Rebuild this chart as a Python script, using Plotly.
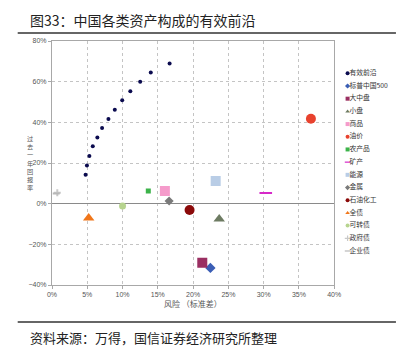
import plotly.graph_objects as go

# Efficient frontier (risk = std dev %, return = trailing 1y return %)
frontier_risk = [4.76, 4.95, 5.3, 5.78, 6.43, 7.1, 8.0, 8.9, 9.95, 11.1, 12.5, 14.0, 16.67]
frontier_return = [14.2, 18.8, 23.4, 28.2, 32.6, 37.2, 41.6, 46.2, 50.9, 55.3, 60.0, 64.5, 68.9]

# Individual asset classes
asset_names = ["标普中国500", "大中盘", "小盘", "商品", "油价", "农产品", "矿产",
               "能源", "金属", "石油化工", "全债", "可转债", "政府债", "企业债"]
asset_risk = [22.45, 21.3, 23.7, 16.0, 36.7, 13.65, 30.3, 23.2, 16.6, 19.5, 5.2, 10.0, 0.75, 0.6]
asset_return = [-31.6, -29.0, -7.6, 6.2, 41.8, 6.2, 5.2, 11.1, 1.3, -3.1, -7.1, -1.2, 5.4, 5.0]

frontier_name = "有效前沿"
frontier_color = "#0b0b4f"

asset_colors = ["#3b5eb5", "#9a2f62", "#6d7b62", "#f59bcb", "#e8422e", "#3cb34a", "#d629c8",
                "#b9cde6", "#7a7a7a", "#8b0a0a", "#f0761a", "#b7d48f", "#c8c8c8", "#b8b8b8"]
asset_symbols = ["diamond", "square", "triangle-up", "square", "circle", "square", "line-ew",
                 "square", "diamond", "circle", "triangle-up", "circle", "cross-thin", "line-ew"]
asset_sizes = [8, 10, 10, 10, 10, 5, 9, 10, 7, 10, 10, 7, 5, 5]

y_label = "过去一年回报率"
x_label = "风险 （标准差）"
title_text = "图33：中国各类资产构成的有效前沿"
source_text = "资料来源：万得，国信证券经济研究所整理"

W, H = 406, 350
ML, MR, MT, MB = 52, 6, 41, 65
PW = W - ML - MR
PH = H - MT - MB


def px_x(p):
    return (p - ML) / PW


def px_y(p):
    return (H - MB - p) / PH


def is_line(sym):
    return "line" in sym or "thin" in sym


fig = go.Figure()

fig.add_trace(go.Scatter(
    x=frontier_risk, y=frontier_return, mode="markers",
    marker=dict(color=frontier_color, size=4, symbol="circle"),
    name=frontier_name, showlegend=False))

for n, xr, yr, c, s, z in zip(asset_names, asset_risk, asset_return,
                               asset_colors, asset_symbols, asset_sizes):
    fig.add_trace(go.Scatter(
        x=[xr], y=[yr], mode="markers", name=n, showlegend=False,
        marker=dict(color=c, size=z, symbol=s,
                    line=dict(color=c, width=2 if is_line(s) else 0))))

# Compact legend on its own small axis
leg_names = [frontier_name] + asset_names
leg_colors = [frontier_color] + asset_colors
leg_symbols = ["circle"] + asset_symbols
leg_idx = list(range(len(leg_names)))
fig.add_trace(go.Scatter(
    x=[0.073] * len(leg_names), y=leg_idx, mode="markers", xaxis="x2", yaxis="y2",
    marker=dict(color=leg_colors, symbol=leg_symbols, size=4,
                line=dict(color=leg_colors, width=[1.2 if is_line(s) else 0 for s in leg_symbols])),
    showlegend=False, hoverinfo="skip"))
fig.add_trace(go.Scatter(
    x=[0.11] * len(leg_names), y=leg_idx, mode="text", xaxis="x2", yaxis="y2",
    text=leg_names, textposition="middle right",
    textfont=dict(size=6.8, color="#333", family="Noto Sans CJK SC"),
    showlegend=False, hoverinfo="skip"))

grid = "#c4c4c4"
fig.update_layout(
    width=W, height=H, margin=dict(l=ML, r=MR, t=MT, b=MB),
    paper_bgcolor="white", plot_bgcolor="white",
    font=dict(family="Liberation Sans, Noto Sans CJK SC", color="#555"),
    xaxis=dict(domain=[0, 288 / PW], range=[0, 40], dtick=5, ticksuffix="%",
               showgrid=True, gridcolor=grid, griddash="dot", gridwidth=1,
               zeroline=False, showline=True, linecolor="#a8a8a8", mirror=True,
               ticks="outside", ticklen=3, tickcolor="#a8a8a8",
               tickfont=dict(size=7, color="#555")),
    yaxis=dict(range=[-40, 80], dtick=20, ticksuffix="%",
               showgrid=True, gridcolor=grid, griddash="dot", gridwidth=1,
               zeroline=True, zerolinecolor="#8a8a8a", zerolinewidth=1,
               showline=True, linecolor="#a8a8a8", mirror=True,
               ticks="outside", ticklen=3, tickcolor="#a8a8a8",
               tickfont=dict(size=7, color="#555")),
    xaxis2=dict(domain=[px_x(350), 1], range=[0, 1], visible=False, anchor="y2"),
    yaxis2=dict(domain=[0, 1], range=[16.68, -2.545], visible=False, anchor="x2"),
)

annotations = [
    dict(text=title_text, x=px_x(27), y=px_y(20), xref="paper", yref="paper",
         xanchor="left", yanchor="middle", showarrow=False,
         font=dict(size=14, color="#222", family="Noto Sans CJK SC")),
    dict(text=source_text, x=px_x(27), y=px_y(337), xref="paper", yref="paper",
         xanchor="left", yanchor="middle", showarrow=False,
         font=dict(size=13, color="#222", family="Noto Sans CJK SC")),
    dict(text=x_label, x=px_x(196), y=px_y(303), xref="paper", yref="paper",
         xanchor="center", yanchor="middle", showarrow=False,
         font=dict(size=8, color="#555", family="Noto Sans CJK SC")),
]
# vertical (stacked) y-axis title, one character per line
for i, ch in enumerate(y_label):
    annotations.append(dict(text=ch, x=px_x(30), y=px_y(138.4 + 8.2 * i), xref="paper", yref="paper",
                            xanchor="center", yanchor="middle", showarrow=False, borderpad=0,
                            font=dict(size=6.2, color="#555", family="Noto Sans CJK SC")))
fig.update_layout(annotations=annotations)

fig.update_layout(shapes=[
    dict(type="line", xref="paper", yref="paper", x0=px_x(17), x1=px_x(403),
         y0=px_y(33), y1=px_y(33), line=dict(color="#333", width=1.5)),
    dict(type="line", xref="paper", yref="paper", x0=px_x(17), x1=px_x(403),
         y0=px_y(322), y1=px_y(322), line=dict(color="#333", width=1.5)),
])

fig.write_html("out.html")
